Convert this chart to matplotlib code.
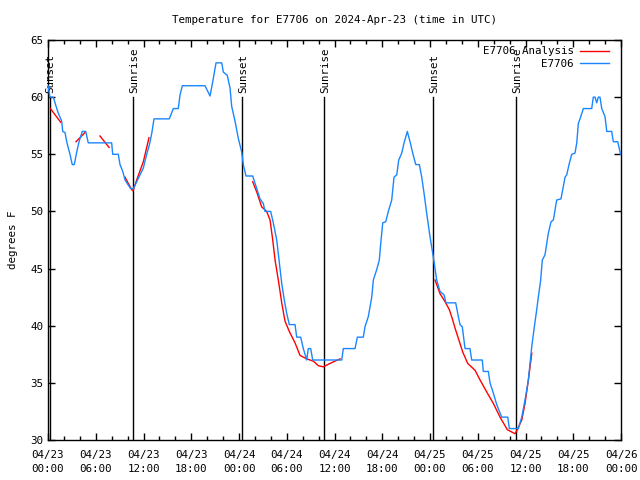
import matplotlib
matplotlib.use("Agg")
import matplotlib.pyplot as plt
from matplotlib.ticker import MultipleLocator

# Hours since 2024-04-23 00:00 UTC
obs_hours = [0.00, 0.25, 0.67, 0.97, 1.29, 1.72, 1.85, 2.14, 2.35, 2.76, 3.05, 3.30, 3.61, 3.90,
             4.31, 4.74, 5.06, 8.00, 8.13, 8.83, 9.05, 9.39, 9.68, 10.09, 10.39, 10.72, 11.15,
             11.56, 11.98, 12.40, 12.73, 13.03, 13.32, 15.24, 15.75, 16.37, 16.59, 16.88, 19.73,
             20.36, 20.70, 21.11, 21.83, 22.03, 22.53, 22.87, 23.08, 23.50, 23.91, 24.34, 24.54,
             24.88, 25.72, 26.23, 26.64, 27.05, 27.27, 27.98, 28.31, 28.74, 29.03, 29.37, 29.69,
             29.99, 30.32, 31.04, 31.25, 31.75, 32.08, 32.51, 32.71, 33.01, 33.26, 36.91, 37.11,
             38.58, 38.87, 39.62, 39.83, 40.25, 40.68, 40.88, 41.30, 41.63, 41.81, 42.06, 42.44,
             42.76, 43.19, 43.48, 43.82, 44.07, 44.45, 44.74, 45.15, 45.49, 45.83, 46.21, 46.66,
             46.96, 47.25, 47.59, 48.00, 48.42, 48.84, 49.26, 49.76, 50.01, 51.23, 51.56, 51.77,
             52.06, 52.40, 53.02, 53.24, 54.57, 54.70, 55.33, 55.54, 55.96, 56.38, 57.01, 57.77,
             57.97, 59.10, 59.53, 59.94, 60.36, 60.79, 61.11, 61.41, 61.61, 61.91, 62.11, 62.45,
             62.67, 62.87, 63.21, 63.50, 63.71, 63.92, 64.46, 64.75, 64.97, 65.18, 65.47, 65.81,
             66.22, 66.44, 66.64, 66.85, 67.27, 68.32, 68.52, 68.74, 68.95, 69.15, 69.36, 69.58,
             69.99, 70.21, 70.83, 71.04, 71.59, 71.95]
obs_temps = [61.0, 60.0, 60.0, 59.3, 58.6, 57.9, 57.0, 56.9, 56.1, 55.0, 54.1, 54.1, 55.2, 56.1,
             57.0, 57.0, 56.0, 56.0, 55.0, 55.0, 54.1, 53.5, 52.75, 52.3, 52.0, 52.0, 52.6,
             53.2, 53.8, 55.0, 55.8, 56.8, 58.1, 58.1, 59.0, 59.0, 60.2, 61.0, 61.0,
             60.1, 61.35, 63.0, 63.0, 62.2, 61.9, 60.8, 59.2, 57.9, 56.4, 55.2, 54.1,
             53.1, 53.1, 52.0, 51.1, 50.7, 50.0, 50.0, 49.0, 47.5, 45.75, 43.7, 42.25,
             41.1, 40.1, 40.1, 39.0, 39.0, 38.0, 37.0, 38.0, 38.0, 37.0, 37.0, 38.0,
             38.0, 39.0, 39.0, 39.9, 40.8, 42.5, 44.0, 44.9, 45.75, 47.2, 49.0, 49.1,
             50.0, 51.0, 53.0, 53.2, 54.5, 55.1, 56.0, 57.0, 56.1, 55.1, 54.1, 54.1,
             53.0, 51.6, 49.8, 47.8, 46.0, 44.0, 43.0, 42.7, 42.0, 42.0, 40.8, 40.1,
             39.9, 38.0, 38.0, 37.0, 37.0, 36.0, 36.0, 35.0, 34.1, 33.1, 32.0, 32.0,
             31.0, 31.0, 32.0, 33.5, 35.25, 38.2, 39.9, 41.4, 42.5, 44.0, 45.75, 46.2,
             47.2, 48.1, 49.1, 49.25, 50.1, 51.0, 51.1, 52.2, 53.0, 53.2, 54.1, 55.0,
             55.1, 56.0, 57.7, 58.1, 59.0, 59.0, 60.0, 60.0, 59.5, 60.0, 60.0, 59.0,
             58.3, 57.0, 57.0, 56.1, 56.1, 55.0]

# Analysis segments (hours, temps)
ana_hours = [
    [0.30, 1.60],
    [3.52, 4.65],
    [6.53, 7.67],
    [9.68, 10.05, 10.52, 10.68, 11.22, 11.98, 12.69],
    [25.72, 26.23, 26.85, 27.48, 27.90, 28.24, 28.53, 28.94, 29.37, 29.78, 30.32, 31.04,
     31.67, 32.51, 33.34, 33.97, 34.59, 35.44, 36.69],
    [48.63, 49.26, 49.89, 50.43, 50.81, 51.14, 51.56, 52.11, 52.74, 53.66, 54.29, 55.13,
     55.96, 56.80, 57.72, 58.69, 58.97, 59.53, 59.94, 60.36, 60.79],
]
ana_temps = [
    [59.0, 57.8],
    [56.1, 56.9],
    [56.6, 55.6],
    [53.0, 52.5, 51.9, 51.8, 52.9, 54.35, 56.45],
    [52.6, 51.7, 50.4, 50.0, 49.25, 47.5, 45.75, 44.0, 42.0, 40.4, 39.5, 38.5,
     37.4, 37.1, 36.9, 36.5, 36.4, 36.7, 37.1],
    [44.0, 42.8, 42.1, 41.4, 40.6, 39.8, 38.9, 37.7, 36.7, 36.1, 35.25, 34.2,
     33.2, 32.0, 30.9, 30.55, 30.9, 31.75, 33.2, 35.25, 37.6],
]

sun_hours = [0.19, 10.68, 24.42, 34.72, 48.42, 58.85]
sun_labels = ["Sunset", "Sunrise", "Sunset", "Sunrise", "Sunset", "Sunrise"]

xtick_labels = ["04/23\n00:00", "04/23\n06:00", "04/23\n12:00", "04/23\n18:00",
                "04/24\n00:00", "04/24\n06:00", "04/24\n12:00", "04/24\n18:00",
                "04/25\n00:00", "04/25\n06:00", "04/25\n12:00", "04/25\n18:00",
                "04/26\n00:00"]

plt.rcParams['font.family'] = ['DejaVu Sans Mono']
fs = 7.8

fig = plt.figure(figsize=(6.4, 4.8), dpi=100)
ax = fig.add_axes([48/640, 1-440/480, (621-48)/640, 400/480])

for h, lab in zip(sun_hours, sun_labels):
    ax.plot([h, h], [30, 60], color='black', lw=1.0, zorder=1)
    ax.text(h + 0.15, 60.4, lab, rotation=90, ha='center', va='bottom', fontsize=fs, zorder=1)

red = '#ff0000'
blue = '#1a86ff'
for i, (hh, tt) in enumerate(zip(ana_hours, ana_temps)):
    ax.plot(hh, tt, color=red, lw=1.0, zorder=2, label='E7706 Analysis' if i == 0 else None)
ax.plot(obs_hours, obs_temps, color=blue, lw=1.0, zorder=3, label='E7706')

ax.set_xlim(0, 72)
ax.set_ylim(30, 65)
ax.set_xticks(range(0, 73, 6))
ax.set_xticklabels(xtick_labels, fontsize=fs, linespacing=1.55)
ax.xaxis.set_minor_locator(MultipleLocator(2))
ax.set_yticks(range(30, 66, 5))
ax.set_yticklabels([str(v) for v in range(30, 66, 5)], fontsize=fs)
ax.tick_params(which='both', direction='in', top=True, right=True)
ax.tick_params(which='major', length=5, width=1)
ax.tick_params(which='minor', length=3, width=1)
ax.tick_params(axis='x', pad=7)
for s in ax.spines.values():
    s.set_linewidth(1.0)

ax.set_ylabel('degrees F', fontsize=fs, labelpad=9)
ax.set_title('Temperature for E7706 on 2024-Apr-23 (time in UTC)', fontsize=fs, pad=12)

leg = ax.legend(loc='upper right', bbox_to_anchor=(0.99, 1.0), frameon=False,
                markerfirst=False, fontsize=fs, handlelength=2.7, borderaxespad=0.2,
                labelspacing=0.25, handletextpad=0.55)

fig.savefig('out.png', dpi=100)
